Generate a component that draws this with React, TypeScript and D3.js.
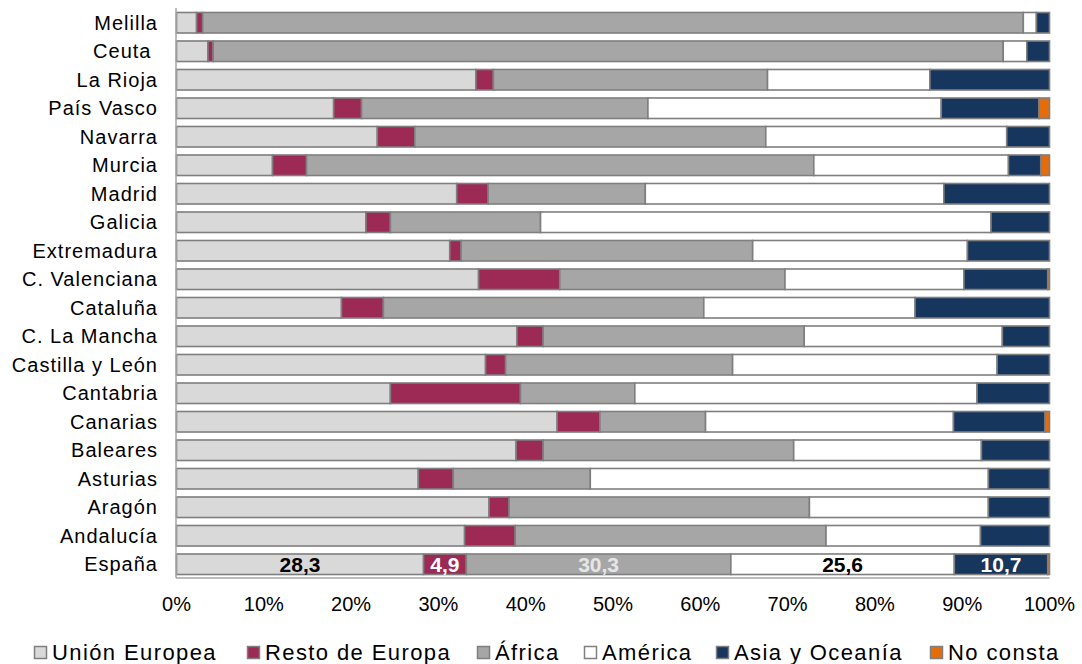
import React from "react";
import * as d3 from "d3";

const regions = ["Melilla", "Ceuta ", "La Rioja", "País Vasco", "Navarra", "Murcia", "Madrid", "Galicia", "Extremadura", "C. Valenciana", "Cataluña", "C. La Mancha", "Castilla y León", "Cantabria", "Canarias", "Baleares", "Asturias", "Aragón", "Andalucía", "España"];
const seriesNames = ["Unión Europea", "Resto de Europa", "África", "América", "Asia y Oceanía", "No consta"];
const unionEuropea = [2.3, 3.6, 34.3, 18.0, 23.0, 11.0, 32.1, 21.7, 31.3, 34.6, 18.9, 39.0, 35.4, 24.5, 43.6, 38.9, 27.7, 35.8, 33.0, 28.3];
const restoEuropa = [0.7, 0.6, 2.0, 3.2, 4.3, 3.9, 3.6, 2.8, 1.3, 9.3, 4.8, 3.0, 2.3, 14.9, 4.9, 3.1, 4.0, 2.3, 5.8, 4.9];
const africa = [94.0, 90.5, 31.4, 32.8, 40.2, 58.1, 18.0, 17.2, 33.4, 25.8, 36.7, 29.9, 26.0, 13.1, 12.1, 28.7, 15.7, 34.4, 35.6, 30.3];
const america = [1.5, 2.7, 18.6, 33.6, 27.6, 22.3, 34.2, 51.6, 24.6, 20.5, 24.2, 22.7, 30.3, 39.2, 28.4, 21.5, 45.6, 20.5, 17.7, 25.6];
const asiaOceania = [1.5, 2.6, 13.7, 11.2, 4.9, 3.7, 12.1, 6.7, 9.4, 9.6, 15.4, 5.4, 6.0, 8.3, 10.5, 7.8, 7.0, 7.0, 7.9, 10.7];
const noConsta = [0, 0, 0, 1.2, 0, 1.0, 0, 0, 0, 0.2, 0, 0, 0, 0, 0.5, 0, 0, 0, 0, 0.2];
const tickValues = [0, 10, 20, 30, 40, 50, 60, 70, 80, 90, 100];
const labeledRegion = "España";
const labelColors = ["#000000", "#ffffff", "#e6e6e6", "#000000", "#ffffff", "#ffffff"];

const colors = ["#d9d9d9", "#9c2a55", "#a6a6a6", "#ffffff", "#17365d", "#e46c0a"];
const seriesValues = [unionEuropea, restoEuropa, africa, america, asiaOceania, noConsta];

export default function App() {
  const W = 1082, H = 664;
  const x = d3.scaleLinear().domain([0, 100]).range([176.5, 1049.5]);
  const y = d3.scaleBand<string>().domain(regions).range([8.5, 578.5]).paddingInner(0.28).paddingOuter(0.14);

  const rows = regions.map((r, i) => {
    const o: any = { region: r };
    seriesNames.forEach((s, k) => (o[s] = seriesValues[k][i]));
    return o;
  });
  const stacked = d3.stack<any>().keys(seriesNames)(rows);

  const legendX = [34, 247, 477, 584, 716, 930];
  const fontFamily = "'Liberation Sans', Arial, sans-serif";

  return (
    <svg width={W} height={H} style={{ display: "block", position: "absolute", left: 0, top: 0 }} fontFamily={fontFamily}>
      <rect width={W} height={H} fill="#ffffff" />
      {stacked.map((layer, k) => (
        <g key={seriesNames[k]}>
          {layer.map((d, i) => {
            const w = x(d[1]) - x(d[0]);
            if (w <= 0) return null;
            return (
              <rect
                key={i}
                x={x(d[0])}
                y={y(regions[i])!}
                width={w}
                height={y.bandwidth()}
                fill={colors[k]}
                stroke="#7f7f7f"
                strokeWidth={1.6}
              />
            );
          })}
        </g>
      ))}
      {/* axis lines */}
      <line x1={176} x2={176} y1={8} y2={578} stroke="#a6a6a6" strokeWidth={1.5} />
      <line x1={176} x2={1049.5} y1={578} y2={578} stroke="#a6a6a6" strokeWidth={1.5} />
      {/* category labels */}
      {regions.map((r) => (
        <text
          key={r}
          x={158}
          y={y(r)! + y.bandwidth() / 2 + 7}
          textAnchor="end"
          fontSize={20}
          letterSpacing={1.0}
          fill="#000"
          style={{ whiteSpace: "pre" }}
        >
          {r}
        </text>
      ))}
      {/* value labels for España */}
      {stacked.map((layer, k) => {
        const i = regions.indexOf(labeledRegion);
        const d = layer[i];
        const v = seriesValues[k][i];
        if (x(d[1]) - x(d[0]) < 25) return null;
        return (
          <text
            key={"lab" + k}
            x={(x(d[0]) + x(d[1])) / 2}
            y={y(labeledRegion)! + y.bandwidth() / 2 + 7.5}
            textAnchor="middle"
            fontSize={21}
            fontWeight="bold"
            fill={labelColors[k]}
          >
            {d3.format(".1f")(v).replace(".", ",")}
          </text>
        );
      })}
      {/* x tick labels */}
      {tickValues.map((t) => (
        <text key={t} x={x(t)} y={610.5} textAnchor="middle" fontSize={20} fill="#000">
          {t + "%"}
        </text>
      ))}
      {/* legend */}
      {seriesNames.map((s, k) => (
        <g key={s} transform={`translate(${legendX[k]},0)`}>
          <rect x={0.5} y={646.5} width={12} height={12} fill={colors[k]} stroke="#7f7f7f" strokeWidth={1.5} />
          <text x={18} y={660} fontSize={22} letterSpacing={1.4} fill="#000">
            {s}
          </text>
        </g>
      ))}
    </svg>
  );
}
